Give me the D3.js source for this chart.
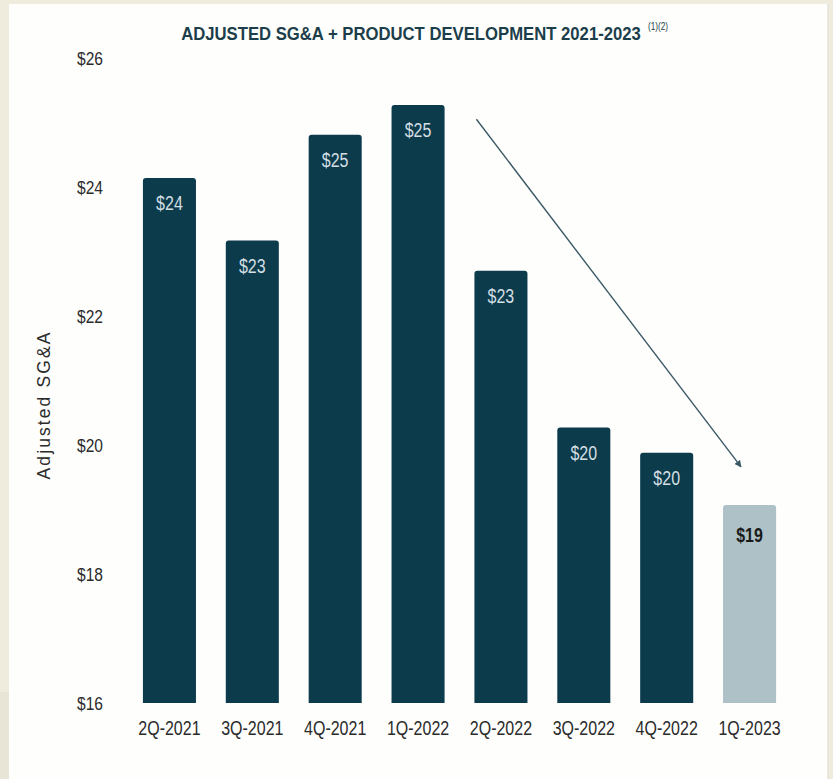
<!DOCTYPE html>
<html>
<head>
<meta charset="utf-8">
<script src="https://cdn.jsdelivr.net/npm/d3@7"></script>
<style>
  html, body { margin: 0; padding: 0; background: #efebdd; }
  svg { display: block; }
</style>
</head>
<body>
<svg id="chart" width="833" height="779"></svg>
<script>
// Quarterly adjusted SG&A + product development ($M)
const quarters = ["2Q-2021", "3Q-2021", "4Q-2021", "1Q-2022", "2Q-2022", "3Q-2022", "4Q-2022", "1Q-2023"];
const spend = [24.14, 23.17, 24.81, 25.27, 22.70, 20.27, 19.88, 19.07];
const valueLabels = ["$24", "$23", "$25", "$25", "$23", "$20", "$20", "$19"];
const yTicks = [16, 18, 20, 22, 24, 26];
const latestQuarter = "1Q-2023";
// trend arrow endpoints: [category, value]
const trendFrom = ["2Q-2022", 25.05];
const trendTo = ["1Q-2023", 19.66];

const svg = d3.select("#chart");
const W = 833, H = 779;

const sans = "'Liberation Sans', Arial, sans-serif";
const CONDENSE = 0.82;

// squeeze text horizontally to a condensed face, keeping its anchor x fixed
function condense(sel, factor = CONDENSE) {
  sel.each(function () {
    const el = d3.select(this);
    const x0 = +el.attr("x") || 0;
    el.attr("transform", `translate(${x0 * (1 - factor)},0) scale(${factor},1)`);
  });
}

// page panel
svg.append("rect").attr("width", W).attr("height", H).attr("fill", "#efebdd");
svg.append("rect").attr("x", 0).attr("y", 692).attr("width", 9).attr("height", H - 692).attr("fill", "#e8e5d6");
svg.append("rect").attr("x", 9).attr("y", 4).attr("width", 819).attr("height", H - 4).attr("fill", "#fefefd");
svg.append("line").attr("x1", 828).attr("x2", 828).attr("y1", 4).attr("y2", H)
  .attr("stroke", "#e4e2d8").attr("stroke-width", 1.5);

const x = d3.scaleBand().domain(quarters).range([128, 791]).paddingInner(0.36).paddingOuter(0.18);
const y = d3.scaleLinear().domain([16, 26]).range([703, 58]);

// title
const title = svg.append("text")
  .attr("x", 411).attr("y", 40)
  .attr("text-anchor", "middle")
  .attr("font-family", sans).attr("font-weight", "bold")
  .attr("font-size", 18.5).attr("fill", "#1c3e4b")
  .text("ADJUSTED SG&A + PRODUCT DEVELOPMENT 2021-2023");
condense(title, 460 / title.node().getComputedTextLength());
svg.append("text")
  .attr("x", 648).attr("y", 30)
  .attr("font-family", sans).attr("font-size", 10).attr("fill", "#1c3e4b")
  .text("(1)(2)")
  .call(condense);

// y axis (labels only)
const yAxis = svg.append("g")
  .attr("transform", "translate(105,0)")
  .call(d3.axisLeft(y).tickValues(yTicks).tickSize(0).tickPadding(0).tickFormat(d => "$" + d));
yAxis.select(".domain").remove();
yAxis.selectAll("text")
  .attr("font-family", sans).attr("font-size", 19).attr("fill", "#2b2b2b")
  .attr("text-anchor", "middle").attr("x", -15)
  .call(condense);

// y axis title
svg.append("text")
  .attr("transform", "translate(50,405) rotate(-90)")
  .attr("text-anchor", "middle")
  .attr("font-family", sans).attr("font-size", 17.5).attr("letter-spacing", 2.1)
  .attr("fill", "#2b2b2b")
  .text("Adjusted SG&A");

// bars
const isLatest = d => d === latestQuarter;
svg.append("g").selectAll("path")
  .data(quarters)
  .join("path")
  .attr("fill", d => isLatest(d) ? "#adc1c7" : "#0c3b4c")
  .attr("d", (d, i) => {
    const x0 = x(d), w = x.bandwidth(), y0 = y(spend[i]), y1 = y(16), r = 3;
    return `M${x0},${y1}V${y0 + r}Q${x0},${y0} ${x0 + r},${y0}H${x0 + w - r}Q${x0 + w},${y0} ${x0 + w},${y0 + r}V${y1}Z`;
  });

// value labels
svg.append("g").selectAll("text")
  .data(quarters)
  .join("text")
  .attr("x", d => x(d) + x.bandwidth() / 2)
  .attr("y", (d, i) => y(spend[i]) + (isLatest(d) ? 37 : 32))
  .attr("text-anchor", "middle")
  .attr("font-family", sans)
  .attr("font-size", 19.5)
  .attr("font-weight", d => isLatest(d) ? "bold" : "normal")
  .attr("fill", d => isLatest(d) ? "#1a1a1a" : "#d3dfe3")
  .text((d, i) => valueLabels[i])
  .call(condense);

// x axis (labels only)
const xAxis = svg.append("g")
  .attr("transform", "translate(0,703)")
  .call(d3.axisBottom(x).tickSize(0).tickPadding(0));
xAxis.select(".domain").remove();
xAxis.selectAll("text")
  .attr("font-family", sans).attr("font-size", 19.5).attr("fill", "#2b2b2b")
  .attr("dy", 0).attr("y", 32)
  .call(condense);

// downward trend arrow
const defs = svg.append("defs");
defs.append("marker")
  .attr("id", "arrowHead")
  .attr("viewBox", "0 0 10 10").attr("refX", 9).attr("refY", 5)
  .attr("markerWidth", 7).attr("markerHeight", 7)
  .attr("markerUnits", "userSpaceOnUse")
  .attr("orient", "auto")
  .append("path").attr("d", "M0,0L10,5L0,10Z").attr("fill", "#3b5965");

svg.append("line")
  .attr("x1", x(trendFrom[0]) + 2).attr("y1", y(trendFrom[1]))
  .attr("x2", x(trendTo[0]) + 18).attr("y2", y(trendTo[1]))
  .attr("stroke", "#3b5965").attr("stroke-width", 1.4)
  .attr("marker-end", "url(#arrowHead)");
</script>
</body>
</html>
